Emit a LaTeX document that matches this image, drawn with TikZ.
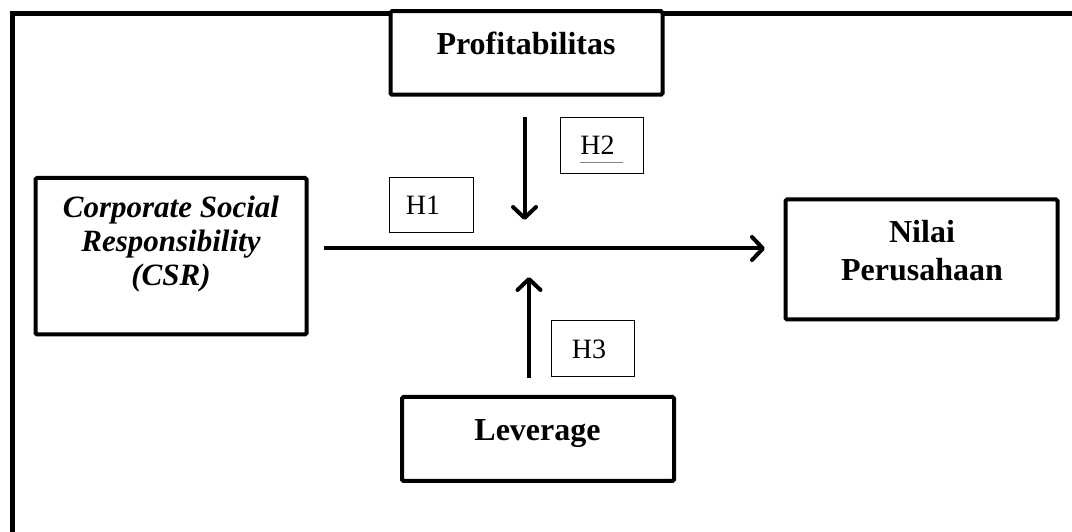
\documentclass[tikz,border=0pt]{standalone}
\usepackage{fontspec}
\setmainfont{Liberation Serif}
\usetikzlibrary{arrows.meta,calc}
\begin{document}
\begin{tikzpicture}[x=1pt,y=1pt,
 bx/.style={draw, line width=4pt, fill=white, rounded corners=1.5pt, inner sep=0pt},
 hb/.style={draw, line width=0.8pt, fill=white, inner sep=0pt, minimum width=83pt, minimum height=56pt},
 bt/.style={font=\bfseries\fontsize{32}{37}\selectfont, inner sep=0pt, anchor=base},
 it/.style={font=\bfseries\itshape\fontsize{31}{34}\selectfont, inner sep=0pt, anchor=base},
 ht/.style={font=\fontsize{28}{30}\selectfont, inner sep=0pt, anchor=base},
 arr/.style={line width=4pt, -{Straight Barb[length=11pt,width=23pt,round]}},
]
\useasboundingbox (0,0) rectangle (1072,532);
\clip (0,0) rectangle (1072,532);
% outer frame (left and top only)
\draw[line width=5pt] (12.5,-10) -- (12.5,518) -- (1085,518);

% main boxes
\node[bx, minimum width=272pt, minimum height=83.5pt] (prof) at (526.5,479) {};
\node[bx, minimum width=271pt, minimum height=156.5pt] (csr) at (171,275.75) {};
\node[bx, minimum width=272pt, minimum height=120pt] (nilai) at (921.5,272.5) {};
\node[bx, minimum width=272pt, minimum height=84pt] (lev) at (538,93) {};

% texts
\node[bt] (tprof) at (526,477.5) {Profitabilitas};
\node[it] (tcsr1) at (171,314) {Corporate Social};
\node[it] (tcsr2) at (171,280) {Responsibility};
\node[it] (tcsr3) at (171,246) {(CSR)};
\node[bt] (tnil1) at (922,289) {Nilai};
\node[bt] (tnil2) at (922,251) {Perusahaan};
\node[bt] (tlev) at (537.5,91) {Leverage};

% hypothesis boxes
\node[hb, minimum width=84pt, minimum height=55pt] (h1) at (431,327.5) {};
\node[hb] (h2) at (601.5,387) {};
\node[hb] (h3) at (592.5,184) {};
\node[ht] (th1) at (423,317) {H1};
\node[ht] (th2) at (597.5,377) {H2};
\node[ht] (th3) at (589,173.7) {H3};
\draw[line width=0.6pt, gray] ($(h2.center)+(-21.5,-17)$) -- ($(h2.center)+(21.5,-17)$);

% junction coordinates
\coordinate (m) at (524.5,283.5);
\coordinate (jd) at (524.5,312);
\coordinate (ju) at (529,255);

% arrows
\draw[arr, shorten <=15.5pt, shorten >=18.5pt] (csr.east |- m) -- (nilai.west |- m);
\draw[arr, shorten <=20pt] (prof.south -| jd) -- (jd);
\draw[arr, shorten <=17pt] (lev.north -| ju) -- (ju);
\end{tikzpicture}
\end{document}
